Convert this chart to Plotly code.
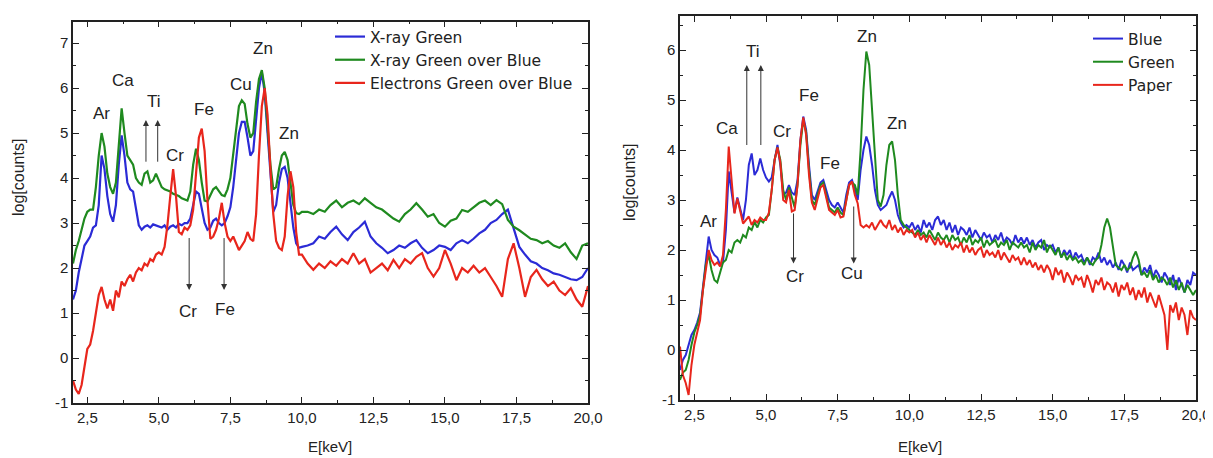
import plotly.graph_objects as go

# ---------------- LEFT PANEL DATA ----------------
E_LEFT = [2.0, 2.1, 2.2, 2.3, 2.4, 2.5, 2.6, 2.7, 2.8, 2.9,
          3.0, 3.1, 3.2, 3.3, 3.4, 3.5, 3.6, 3.7, 3.8, 3.9,
          4.0, 4.1, 4.2, 4.3, 4.4, 4.5, 4.6, 4.7, 4.8, 4.9,
          5.0, 5.1, 5.2, 5.3, 5.4, 5.5, 5.6, 5.7, 5.8, 5.9,
          6.0, 6.1, 6.2, 6.3, 6.4, 6.5, 6.6, 6.7, 6.8, 6.9,
          7.0, 7.1, 7.2, 7.3, 7.4, 7.5, 7.6, 7.7, 7.8, 7.9,
          8.0, 8.1, 8.2, 8.3, 8.4, 8.5, 8.6, 8.7, 8.8, 8.9,
          9.0, 9.1, 9.2, 9.3, 9.4, 9.5, 9.6, 9.7, 9.8, 9.9,
          10.0,
          10.2, 10.4, 10.6, 10.8, 11.0, 11.2, 11.4, 11.6, 11.8, 12.0,
          12.2, 12.4, 12.6, 12.8, 13.0, 13.2, 13.4, 13.6, 13.8, 14.0,
          14.2, 14.4, 14.6, 14.8, 15.0, 15.2, 15.4, 15.6, 15.8, 16.0,
          16.2, 16.4, 16.6, 16.8, 17.0, 17.2, 17.4, 17.6, 17.8, 18.0,
          18.2, 18.4, 18.6, 18.8, 19.0, 19.2, 19.4, 19.6, 19.8, 20.0]

XRAY_GREEN = [1.3, 1.5, 1.9, 2.2, 2.5, 2.6, 2.7, 2.9, 2.95, 3.4,
              4.5, 4.2, 3.6, 3.2, 3.03, 3.4, 4.3, 4.95, 4.5, 3.9,
              3.75, 3.7, 3.3, 2.95, 2.85, 2.92, 2.95, 2.9, 2.97, 2.95,
              2.93, 2.9, 2.95, 2.85, 2.92, 2.95, 2.9, 2.98, 2.95, 3.0,
              3.0, 3.1, 3.4, 3.7, 3.65, 3.3, 3.0, 2.85, 2.9, 3.05,
              3.1, 3.0, 2.95, 3.0, 3.15, 3.35, 3.8, 4.4, 5.0, 5.25,
              5.25, 4.9, 4.5, 4.6, 5.3, 6.0, 6.35, 5.9, 5.0, 4.0,
              3.25, 3.4, 3.9, 4.2, 4.25, 4.0, 3.5, 2.9, 2.55, 2.45,
              2.47,
              2.5, 2.55, 2.7, 2.65, 2.8, 2.92, 2.75, 2.62, 2.8, 2.9,
              3.03, 2.7, 2.55, 2.45, 2.33, 2.4, 2.5, 2.45, 2.55, 2.62,
              2.45, 2.33, 2.4, 2.5, 2.47, 2.4, 2.55, 2.62, 2.55, 2.65,
              2.77, 2.85, 3.0, 3.07, 3.2, 3.3, 2.9, 2.47, 2.3, 2.15,
              2.1, 2.0, 1.95, 1.88, 1.85, 1.8, 1.75, 1.73, 1.8, 2.0]

XRAY_GREEN_OVER_BLUE = [2.1, 2.4, 2.6, 2.85, 3.1, 3.25, 3.3, 3.3, 3.8, 4.5,
                        5.0, 4.7, 4.1, 3.8, 3.65, 3.9, 4.8, 5.55, 5.0, 4.5,
                        4.4, 4.3, 4.0, 3.9, 3.85, 4.1, 4.15, 3.9, 3.95, 4.1,
                        3.95, 3.8, 3.75, 3.72, 3.7, 3.65, 3.62, 3.6, 3.55, 3.52,
                        3.5, 3.7, 4.3, 4.65, 4.4, 3.9, 3.5, 3.48, 3.6, 3.75,
                        3.8, 3.7, 3.62, 3.6, 3.75, 4.0, 4.5, 5.0, 5.6, 5.73,
                        5.65, 5.2, 4.9, 5.0, 5.7, 6.2, 6.4, 6.0, 5.2, 4.3,
                        3.75, 3.8, 4.2, 4.5, 4.58, 4.4, 3.9, 3.4, 3.22, 3.2,
                        3.25,
                        3.25, 3.2, 3.3, 3.25, 3.4, 3.5, 3.35, 3.45, 3.5, 3.42,
                        3.55, 3.45, 3.35, 3.3, 3.2, 3.1, 3.03, 3.2, 3.3, 3.44,
                        3.3, 3.14, 3.2, 3.0, 2.92, 3.05, 3.1, 3.29, 3.25, 3.35,
                        3.45, 3.5, 3.4, 3.51, 3.42, 3.07, 2.92, 2.84, 2.75, 2.65,
                        2.62, 2.55, 2.6, 2.5, 2.45, 2.55, 2.35, 2.2, 2.5, 2.55]

ELECTRONS_GREEN_OVER_BLUE = [-0.5, -0.7, -0.8, -0.6, -0.2, 0.2, 0.3, 0.6, 1.0, 1.4,
                             1.58, 1.3, 1.1, 1.3, 1.05, 1.5, 1.35, 1.7, 1.6, 1.75,
                             1.85, 1.7, 1.9, 2.0, 1.95, 2.1, 2.05, 2.2, 2.15, 2.3,
                             2.35, 2.3, 2.47, 2.95, 3.6, 4.2, 3.6, 2.8, 2.75, 2.9,
                             2.85, 2.95, 3.3, 4.2, 4.9, 5.1, 4.6, 3.5, 2.65, 2.7,
                             2.85, 3.1, 3.45, 3.0, 2.7, 2.6, 2.7, 2.55, 2.4, 2.5,
                             2.6, 2.8, 2.65, 2.6, 3.2, 4.5, 5.6, 6.0, 5.4, 4.2,
                             3.2, 2.6, 2.45, 2.4, 2.7, 3.6, 4.15, 3.8, 2.8, 2.3,
                             2.3,
                             2.1, 1.96, 2.1, 2.0, 2.15, 2.05, 2.2, 2.1, 2.33, 2.1,
                             2.2, 1.9, 2.0, 2.1, 1.95, 2.18, 2.0, 2.2, 2.1, 2.25,
                             2.33, 2.0, 1.81, 2.0, 2.4, 2.1, 1.73, 2.0, 1.9, 2.05,
                             1.9, 2.0, 1.8, 1.6, 1.36, 2.2, 2.55, 2.0, 1.36, 1.8,
                             1.96, 1.75, 1.6, 1.7, 1.5, 1.4, 1.55, 1.3, 1.14, 1.6]

# ---------------- RIGHT PANEL DATA ----------------
E_RIGHT = [2.0, 2.1, 2.2, 2.3, 2.4, 2.5, 2.6, 2.7, 2.8, 2.9,
           3.0, 3.1, 3.2, 3.3, 3.4, 3.5, 3.6, 3.7, 3.8, 3.9,
           4.0, 4.1, 4.2, 4.3, 4.4, 4.5, 4.6, 4.7, 4.8, 4.9,
           5.0, 5.1, 5.2, 5.3, 5.4, 5.5, 5.6, 5.7, 5.8, 5.9,
           6.0, 6.1, 6.2, 6.3, 6.4, 6.5, 6.6, 6.7, 6.8, 6.9,
           7.0, 7.1, 7.2, 7.3, 7.4, 7.5, 7.6, 7.7, 7.8, 7.9,
           8.0, 8.1, 8.2, 8.3, 8.4, 8.5, 8.6, 8.7, 8.8, 8.9,
           9.0, 9.1, 9.2, 9.3, 9.4, 9.5, 9.6, 9.7, 9.8, 9.9,
           10.0, 10.1, 10.2, 10.3, 10.4, 10.5, 10.6, 10.7, 10.8, 10.9,
           11.0, 11.1, 11.2, 11.3, 11.4, 11.5, 11.6, 11.7, 11.8, 11.9,
           12.0, 12.1, 12.2, 12.3, 12.4, 12.5, 12.6, 12.7, 12.8, 12.9,
           13.0, 13.1, 13.2, 13.3, 13.4, 13.5, 13.6, 13.7, 13.8, 13.9,
           14.0, 14.1, 14.2, 14.3, 14.4, 14.5, 14.6, 14.7, 14.8, 14.9,
           15.0, 15.1, 15.2, 15.3, 15.4, 15.5, 15.6, 15.7, 15.8, 15.9,
           16.0, 16.1, 16.2, 16.3, 16.4, 16.5, 16.6, 16.7, 16.8, 16.9,
           17.0, 17.1, 17.2, 17.3, 17.4, 17.5, 17.6, 17.7, 17.8, 17.9,
           18.0, 18.1, 18.2, 18.3, 18.4, 18.5, 18.6, 18.7, 18.8, 18.9,
           19.0, 19.1, 19.2, 19.3, 19.4, 19.5, 19.6, 19.7, 19.8, 19.9,
           20.0]

BLUE = [-0.4, -0.2, -0.1, 0.1, 0.3, 0.4, 0.55, 0.75, 1.3, 1.8,
        2.27, 2.0, 1.9, 1.85, 1.7, 1.75, 2.4, 3.57, 3.2, 2.75,
        3.05, 2.8, 2.6, 3.0, 3.7, 3.93, 3.5, 3.6, 3.83, 3.6,
        3.45, 3.37, 3.45, 3.8, 4.1, 3.7, 3.1, 3.15, 3.3, 3.15,
        3.1, 3.4, 4.2, 4.67, 4.4, 3.7, 3.1, 3.0, 3.2, 3.35,
        3.4, 3.2, 3.0, 2.9, 2.85, 2.95, 2.85, 2.75, 3.1, 3.35,
        3.4, 3.2, 3.0, 3.6, 4.0, 4.27, 4.1, 3.7, 3.2, 2.9,
        2.8, 2.85, 2.9, 3.05, 3.17, 3.0, 2.7, 2.55, 2.45, 2.5,
        2.45, 2.55, 2.4, 2.5, 2.35, 2.6, 2.45, 2.55, 2.4, 2.6,
        2.67, 2.5, 2.6, 2.4, 2.55, 2.35, 2.5, 2.3, 2.45, 2.4,
        2.3, 2.45, 2.25, 2.4, 2.3, 2.2, 2.35, 2.25, 2.3, 2.15,
        2.3, 2.2, 2.35, 2.15, 2.25, 2.2, 2.1, 2.3, 2.15, 2.25,
        2.13, 2.25, 2.1, 2.2, 2.05, 2.15, 2.2, 2.0, 2.1, 2.05,
        2.1, 1.95, 2.05, 1.85, 2.0, 1.9, 2.0, 1.8, 1.95, 1.85,
        1.9, 1.75, 1.85, 1.7, 1.85, 1.8, 1.95, 1.75, 1.85, 1.7,
        1.8, 1.65, 1.75, 1.6, 1.8, 1.7, 1.55, 1.75, 1.6, 1.65,
        1.7, 1.5, 1.65, 1.55, 1.7, 1.45, 1.6, 1.5, 1.35, 1.55,
        1.45, 1.3, 1.5, 1.2, 1.45, 1.3, 1.15, 1.4, 1.3, 1.55,
        1.5]

GREEN = [-0.6, -0.45, -0.4, -0.2, 0.1, 0.35, 0.5, 0.7, 1.2, 1.7,
         1.9, 1.6, 1.4, 1.35, 1.55, 1.75, 1.8, 2.0, 1.95, 2.15,
         2.2, 2.15, 2.3, 2.25, 2.45, 2.4, 2.56, 2.45, 2.6, 2.55,
         2.65, 2.7, 3.2, 3.8, 4.05, 3.8, 3.2, 3.0, 3.25, 3.05,
         2.85, 3.3, 4.1, 4.6, 4.35, 3.6, 3.0, 2.9, 3.1, 3.3,
         3.35, 3.1, 2.85, 2.8, 2.75, 2.85, 2.75, 2.7, 3.0, 3.3,
         3.35, 3.3, 3.1, 4.0, 5.2, 5.97, 5.7, 4.8, 3.7, 3.0,
         2.87, 3.1, 3.7, 4.1, 4.17, 3.8, 3.1, 2.6, 2.5, 2.45,
         2.4, 2.35, 2.3, 2.4, 2.3, 2.35, 2.25, 2.4, 2.3, 2.2,
         2.35, 2.25, 2.2, 2.3, 2.15, 2.3, 2.2, 2.25, 2.1, 2.25,
         2.15, 2.3, 2.1, 2.2, 2.15, 2.25, 2.05, 2.2, 2.1, 2.15,
         2.2, 2.05, 2.15, 2.1, 2.2, 2.0, 2.15, 2.1, 2.05, 2.15,
         2.05, 2.1, 1.95, 2.15, 2.0, 2.1, 2.05, 2.2, 1.95, 2.1,
         2.0, 1.9, 2.05, 1.85, 1.95, 1.8, 1.9, 1.8, 1.85, 1.75,
         1.8, 1.7, 1.85, 1.75, 1.7, 1.8, 1.85, 2.1, 2.45, 2.63,
         2.45, 2.05, 1.7, 1.65, 1.6, 1.7, 1.6, 1.65, 1.85, 1.97,
         1.8, 1.5, 1.55, 1.45, 1.6, 1.4, 1.5, 1.35, 1.45, 1.4,
         1.3, 1.45, 1.25, 1.4, 1.2, 1.35, 1.15, 1.3, 1.2, 1.1,
         1.2]

PAPER = [0.07, -0.5, -0.66, -0.9, -0.3, 0.1, 0.35, 0.6, 1.2, 1.65,
         2.0, 1.8, 1.7, 1.75, 1.67, 1.9, 2.8, 4.07, 3.4, 2.73,
         3.03, 2.8, 2.53, 2.6, 2.67, 2.5, 2.6, 2.55, 2.65, 2.6,
         2.6, 2.75, 3.2, 3.8, 4.05, 3.75, 3.0, 2.95, 3.2, 2.77,
         2.8, 3.3, 4.2, 4.65, 4.3, 3.5, 2.95, 2.8, 3.05, 3.25,
         3.3, 3.05, 2.8, 2.75, 2.7, 2.8, 2.65, 2.67, 3.0, 3.3,
         3.37, 3.1, 2.93, 2.5, 2.45, 2.5, 2.45, 2.55, 2.4, 2.5,
         2.6, 2.5, 2.45, 2.6, 2.4, 2.5, 2.35, 2.45, 2.3, 2.4,
         2.35, 2.4, 2.25, 2.35, 2.2, 2.3, 2.15, 2.3, 2.2, 2.1,
         2.25, 2.1, 2.2, 2.05, 2.15, 2.0, 2.1, 2.05, 2.15, 1.95,
         2.1, 1.95, 2.05, 1.9, 2.0, 2.05, 1.85, 2.0, 1.9, 1.95,
         1.85, 2.0, 1.8, 1.95, 1.85, 1.75, 1.9, 1.8, 1.85, 1.7,
         1.85, 1.7, 1.8, 1.65, 1.75, 1.6, 1.7, 1.55, 1.7, 1.6,
         1.4, 1.65, 1.5, 1.6, 1.35, 1.55, 1.45, 1.3, 1.5, 1.4,
         1.45, 1.25, 1.5, 1.35, 1.15, 1.4, 1.3, 1.45, 1.2, 1.35,
         1.3, 1.15, 1.35, 1.07, 1.3, 1.2, 1.35, 1.1, 1.25, 1.0,
         1.2, 1.05, 1.25, 0.95, 1.15, 1.0, 0.85, 1.1, 0.9, 0.7,
         0.0, 0.9, 0.75, 0.95, 0.6, 0.85, 0.7, 0.3, 0.8, 0.65,
         0.6]

# tick labels
X_TICKS = [2.5, 5.0, 7.5, 10.0, 12.5, 15.0, 17.5, 20.0]
X_TICKTEXT = ["2,5", "5,0", "7,5", "10,0", "12,5", "15,0", "17,5", "20,0"]
Y_TICKS_LEFT = [-1, 0, 1, 2, 3, 4, 5, 6, 7]
Y_TICKTEXT_LEFT = ["-1", "0", "1", "2", "3", "4", "5", "6", "7"]
Y_TICKS_RIGHT = [-1, 0, 1, 2, 3, 4, 5, 6]
Y_TICKTEXT_RIGHT = ["-1", "0", "1", "2", "3", "4", "5", "6"]

# element labels: (text, E, logcounts)
LEFT_LABELS = [("Ar", 3.0, 5.44), ("Ca", 3.76, 6.16), ("Ti", 4.83, 5.70),
               ("Cr", 5.57, 4.51), ("Fe", 6.58, 5.53), ("Cu", 7.86, 6.07),
               ("Zn", 8.65, 6.88), ("Zn", 9.56, 4.99),
               ("Cr", 6.03, 1.03), ("Fe", 7.31, 1.07)]
LEFT_ARROWS = [(4.55, 4.33, 5.29), (4.96, 4.33, 5.29),
               (6.06, 2.70, 1.51), (7.28, 2.70, 1.51)]  # (E, from, to)
RIGHT_LABELS = [("Ar", 2.99, 2.57), ("Ca", 3.63, 4.43), ("Ti", 4.56, 5.97),
                ("Cr", 5.56, 4.37), ("Fe", 6.49, 5.10), ("Fe", 7.22, 3.73),
                ("Zn", 8.53, 6.27), ("Zn", 9.58, 4.53),
                ("Cr", 6.02, 1.47), ("Cu", 8.0, 1.53)]
RIGHT_ARROWS = [(4.33, 4.07, 5.7), (4.82, 4.07, 5.7),
                (5.96, 2.76, 1.73), (8.06, 2.9, 1.73)]

C_BLUE = "#2b2bd6"
C_GREEN = "#1f8a1f"
C_RED = "#e8261c"
FONT = "Liberation Sans, Arial, sans-serif"
LEG_FONT = "DejaVu Sans, Liberation Sans, sans-serif"
TXT = "#222"

# page has an 8px body margin; figure is sized so it fills the window exactly
W, H, OFF = 1205, 450, 8


def px_x(p):
    return (p - OFF) / W


def px_y(p):
    return (H - (p - OFF)) / H


fig = go.Figure()
fig.add_trace(go.Scatter(x=E_LEFT, y=XRAY_GREEN, mode="lines", name="X-ray Green",
                         line=dict(color=C_BLUE, width=2.2), xaxis="x", yaxis="y", legend="legend"))
fig.add_trace(go.Scatter(x=E_LEFT, y=XRAY_GREEN_OVER_BLUE, mode="lines", name="X-ray Green over Blue",
                         line=dict(color=C_GREEN, width=2.2), xaxis="x", yaxis="y", legend="legend"))
fig.add_trace(go.Scatter(x=E_LEFT, y=ELECTRONS_GREEN_OVER_BLUE, mode="lines", name="Electrons Green over Blue",
                         line=dict(color=C_RED, width=2.2), xaxis="x", yaxis="y", legend="legend"))
fig.add_trace(go.Scatter(x=E_RIGHT, y=BLUE, mode="lines", name="Blue",
                         line=dict(color=C_BLUE, width=2), xaxis="x2", yaxis="y2", legend="legend2"))
fig.add_trace(go.Scatter(x=E_RIGHT, y=GREEN, mode="lines", name="Green",
                         line=dict(color=C_GREEN, width=2), xaxis="x2", yaxis="y2", legend="legend2"))
fig.add_trace(go.Scatter(x=E_RIGHT, y=PAPER, mode="lines", name="Paper",
                         line=dict(color=C_RED, width=2), xaxis="x2", yaxis="y2", legend="legend2"))

axis_common = dict(showline=True, linecolor=TXT, linewidth=1.5, mirror="ticks",
                   ticks="inside", ticklen=6, tickwidth=1.2, tickcolor=TXT,
                   showgrid=False, zeroline=False, automargin=False,
                   tickfont=dict(family=FONT, size=15, color=TXT))
xcommon = dict(axis_common, range=[2, 20], tickmode="array", tickvals=X_TICKS, ticktext=X_TICKTEXT,
               minor=dict(dtick=1.25, tick0=0, ticklen=3, ticks="inside", tickcolor=TXT))
yminor = dict(dtick=0.5, tick0=0, ticklen=3, ticks="inside", tickcolor=TXT)

annotations = []
for ref, labels, arrows in (("", LEFT_LABELS, LEFT_ARROWS), ("2", RIGHT_LABELS, RIGHT_ARROWS)):
    xr, yr = "x" + ref, "y" + ref
    for t, ex, ey in labels:
        annotations.append(dict(x=ex, y=ey, xref=xr, yref=yr, text=t, showarrow=False,
                                xanchor="center", yanchor="middle",
                                font=dict(family=FONT, size=17, color=TXT)))
    for ex, y0, y1 in arrows:
        annotations.append(dict(x=ex, y=y1, ax=ex, ay=y0, xref=xr, yref=yr, axref=xr, ayref=yr,
                                text="", showarrow=True, arrowhead=2, arrowsize=1.2,
                                arrowwidth=1, arrowcolor="#333"))

for px, py, txt, ang, size in ((18, 178, "log[counts]", -90, 16), (630, 183, "log[counts]", -90, 16),
                               (330, 446, "E[keV]", 0, 15), (920, 446, "E[keV]", 0, 15)):
    annotations.append(dict(x=px_x(px), y=px_y(py), xref="paper", yref="paper", text=txt,
                            textangle=ang, showarrow=False, xanchor="center", yanchor="middle",
                            font=dict(family=FONT, size=size, color=TXT)))

fig.update_layout(
    template="none",
    width=W, height=H, margin=dict(l=0, r=0, t=0, b=0, pad=0, autoexpand=False),
    paper_bgcolor="white", plot_bgcolor="white",
    showlegend=True,
    xaxis=dict(xcommon, domain=[px_x(73), px_x(588)], anchor="y"),
    yaxis=dict(axis_common, tickmode="array", tickvals=Y_TICKS_LEFT, ticktext=Y_TICKTEXT_LEFT,
               minor=yminor, domain=[px_y(403), px_y(21.5)], range=[-1, 7.48], anchor="x"),
    xaxis2=dict(xcommon, domain=[px_x(680), px_x(1196)], anchor="y2"),
    yaxis2=dict(axis_common, tickmode="array", tickvals=Y_TICKS_RIGHT, ticktext=Y_TICKTEXT_RIGHT,
                minor=yminor, domain=[px_y(400), px_y(16)], range=[-1, 6.68], anchor="x2"),
    legend=dict(x=px_x(330), y=px_y(20), xanchor="left", yanchor="top",
                bgcolor="rgba(0,0,0,0)", font=dict(family=LEG_FONT, size=15.5, color=TXT),
                tracegroupgap=0, itemwidth=30),
    legend2=dict(x=px_x(1088), y=px_y(22), xanchor="left", yanchor="top",
                 bgcolor="rgba(0,0,0,0)", font=dict(family=LEG_FONT, size=15.5, color=TXT),
                 tracegroupgap=0, itemwidth=30),
    annotations=annotations,
)

fig.write_html("out.html")
